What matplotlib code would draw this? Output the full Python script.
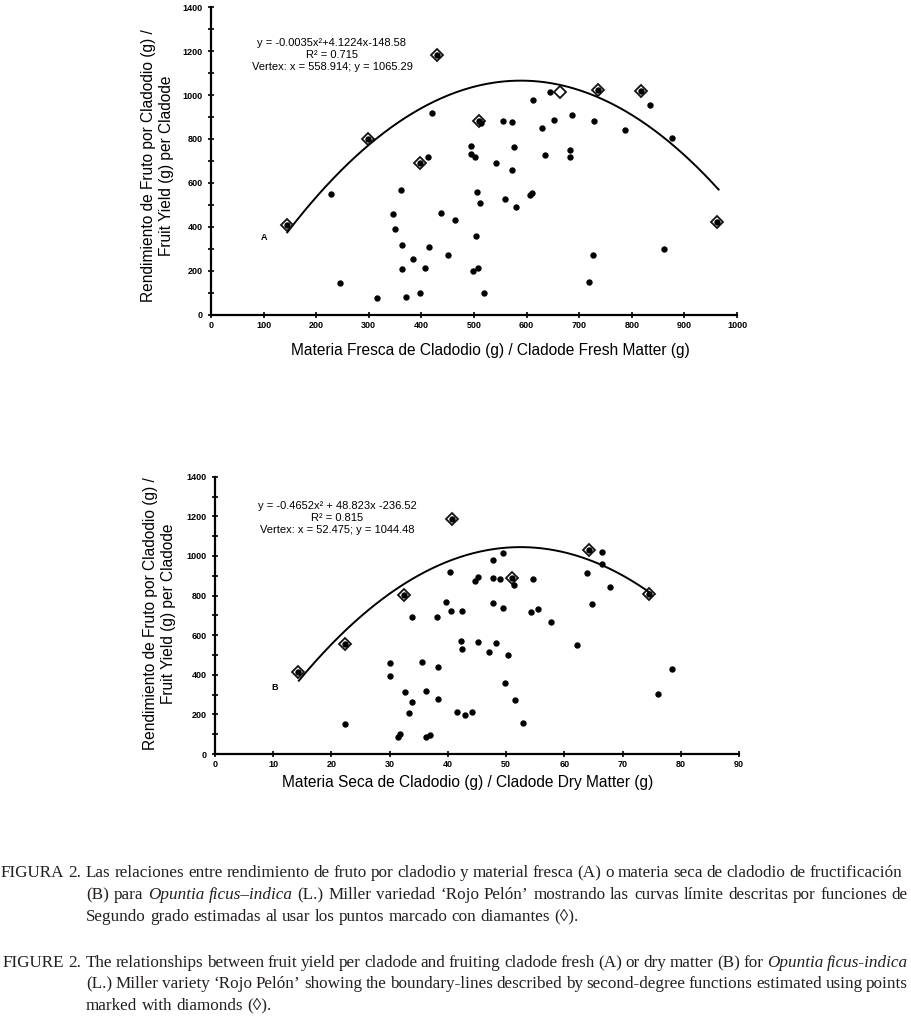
import matplotlib
matplotlib.use("Agg")
import matplotlib.pyplot as plt
import numpy as np
from matplotlib.ticker import MultipleLocator

plt.rcParams['font.family'] = ['Liberation Sans', 'DejaVu Sans']

# ---- panel A: cladode fresh matter (g) vs fruit yield (g)
fresh_x = [227.6, 245.4, 316.4, 345.6, 349.4, 362, 362.7, 362.7, 371, 383.6, 397, 407, 414,
           413.4, 420, 437.5, 451.5, 464, 514, 494, 494, 501, 506, 512, 503, 498, 508, 519.7,
           542.6, 555, 573, 575.6, 573, 559, 579, 606, 610, 612, 629.5, 635, 644, 652.5, 686,
           681.7, 683, 729, 726, 718.5, 787, 835.5, 876.7, 862,
           145, 298.7, 397.6, 430.6, 509.5, 735.7, 817.7, 962]
fresh_y = [552, 145, 79, 460, 390, 566, 318, 207, 83, 254, 100, 212, 310,
           720, 917, 465, 271, 433, 873, 767, 733, 720, 561, 510, 360, 198, 212, 100,
           692, 882, 876, 763, 658, 527, 492, 546, 555, 976, 852, 728, 1014, 885, 908,
           749, 716, 881, 271, 150, 840, 954, 805, 300,
           408, 799, 692, 1184, 882, 1025, 1017, 424]
fresh_dia_x = [145, 298.7, 397.6, 430.6, 509.5, 663, 735.7, 817.7, 962]
fresh_dia_y = [408, 799, 692, 1184, 882, 1012, 1025, 1017, 424]
fresh_coef = [-0.0035, 4.1224, -148.58]
fresh_range = [145, 965]
fresh_eq = "y = -0.0035x²+4.1224x-148.58\nR² = 0.715\nVertex: x = 558.914; y = 1065.29"

# ---- panel B: cladode dry matter (g) vs fruit yield (g)
dry_x = [22.3, 30.1, 30.1, 32.6, 33.9, 33.4, 31.5, 31.7, 33.8, 35.6, 36.2, 36.2, 37, 38.2,
         38.3, 38.3, 39.6, 40.3, 40.6, 41.6, 42.5, 42.3, 42.5, 43, 44.1, 44.7, 45.2, 45.2,
         47, 47.8, 47.8, 47.8, 48.2, 49, 49.4, 49.4, 49.8, 50.3, 51.3, 51.6, 52.9, 54.3,
         54.7, 55.5, 57.7, 62.2, 63.9, 66.4, 66.5, 64.7, 67.8, 76.1, 78.5,
         14.2, 22.4, 32.4, 40.7, 51, 64.2, 74.6]
dry_y = [151, 459, 394, 315, 261, 207, 86, 101, 692, 464, 320, 86, 98, 693,
         437, 276, 767, 920, 722, 212, 724, 570, 530, 199, 214, 875, 895, 567,
         513, 979, 890, 764, 560, 885, 1016, 739, 360, 500, 853, 273, 158, 718,
         885, 734, 665, 552, 912, 1021, 961, 756, 841, 305, 427,
         414, 555, 803, 1186, 888, 1030, 806]
dry_dia_x = [14.2, 22.4, 32.4, 40.7, 51, 64.2, 74.6]
dry_dia_y = [414, 555, 803, 1186, 888, 1030, 806]
dry_coef = [-0.4652, 48.823, -236.52]
dry_range = [14.4, 74.7]
dry_eq = "y = -0.4652x² + 48.823x -236.52\nR² = 0.815\nVertex: x = 52.475; y = 1044.48"

ylabel = "Rendimiento de Fruto por Cladodio (g) /\nFruit Yield (g) per Cladode"

W, H = 911, 1017
fig = plt.figure(figsize=(W / 100, H / 100), dpi=100)


def fx(px):
    return px / W


def fy(py):
    return 1 - py / H


def panel(rect, px, py, kx, ky, coef, xr, xmax, xstep, eq, eq_xy, letter, letter_xy):
    ax = fig.add_axes(rect)
    xs = np.linspace(xr[0], xr[1], 300)
    ax.plot(xs, np.polyval(coef, xs), color='black', lw=1.4, zorder=2)
    ax.plot(kx, ky, linestyle='none', marker='D', ms=6.3, mfc='none', mec='#111111',
            mew=1.3, zorder=3)
    ax.scatter(px, py, s=21, color='black', linewidths=0, zorder=4)
    ax.set_xlim(0, xmax)
    ax.set_ylim(0, 1400)
    xt = np.arange(0, xmax + 1, xstep)
    ax.set_xticks(xt, [f"{v:g}" for v in xt], fontsize=6.5, fontweight='bold')
    yt = np.arange(0, 1401, 200)
    ax.set_yticks(yt, [str(v) for v in yt], fontsize=6.5, fontweight='bold')
    ax.yaxis.set_minor_locator(MultipleLocator(100))
    ax.tick_params(which='both', direction='inout', length=5, width=1.2, colors='black')
    ax.tick_params(axis='x', pad=2)
    ax.tick_params(axis='y', pad=3.5)
    for s in ['top', 'right']:
        ax.spines[s].set_visible(False)
    for s in ['left', 'bottom']:
        ax.spines[s].set_linewidth(1.6)
    ax.text(eq_xy[0], eq_xy[1], eq, ha='center', va='center', multialignment='center',
            fontsize=8, linespacing=1.25)
    ax.text(letter_xy[0], letter_xy[1], letter, ha='center', va='center', fontsize=6.5,
            fontweight='bold')
    return ax


panel([fx(211), fy(315), 526 / W, 308 / H], fresh_x, fresh_y, fresh_dia_x, fresh_dia_y,
      fresh_coef, fresh_range, 1000, 100, fresh_eq, (230, 1180), "A", (100, 353))
panel([fx(215), fy(754), 524 / W, 277.3 / H], dry_x, dry_y, dry_dia_x, dry_dia_y,
      dry_coef, dry_range, 90, 10, dry_eq, (21, 1190), "B", (10.3, 336))

fig.text(fx(157.5), fy(166), ylabel, rotation=90, ha='center', va='center',
         multialignment='center', fontsize=11.2, linespacing=1.2)
fig.text(fx(490), fy(350), "Materia Fresca de Cladodio (g) / Cladode Fresh Matter (g)",
         ha='center', va='center', fontsize=11.2)
fig.text(fx(159.5), fy(614), ylabel, rotation=90, ha='center', va='center',
         multialignment='center', fontsize=11.2, linespacing=1.2)
fig.text(fx(468), fy(782), "Materia Seca de Cladodio (g) / Cladode Dry Matter (g)",
         ha='center', va='center', fontsize=11.2)

# ---- caption, justified line by line as in the original
serif = ['Liberation Serif', 'DejaVu Serif']
ccolor = '#231f20'
rend = fig.canvas.get_renderer()

cap = [
    # (baseline px, label, segments, justified, right edge)
    (877, "FIGURA 2.", [("Las relaciones entre rendimiento de fruto por cladodio y material "
                         "fresca (A) o materia seca de cladodio de fructificación", False)], True, 902),
    (899, None, [("(B) para", False), ("Opuntia ficus–indica", True),
                 ("(L.) Miller variedad ‘Rojo Pelón’ mostrando las curvas límite "
                  "descritas por funciones de", False)], True, 908),
    (921, None, [("Segundo grado estimadas al usar los puntos marcado con "
                  "diamantes (◊).", False)], False, 908),
    (967, "FIGURE 2.", [("The relationships between fruit yield per cladode and fruiting "
                         "cladode fresh (A) or dry matter (B) for", False),
                        ("Opuntia ficus-indica", True)], True, 908),
    (988, None, [("(L.) Miller variety ‘Rojo Pelón’ showing the boundary-lines "
                  "described by second-degree functions estimated using points", False)], True, 908),
    (1010, None, [("marked with diamonds (◊).", False)], False, 908),
]
indent = 86


def words(segments):
    out = []
    for txt, it in segments:
        for w in txt.split():
            out.append((w, it))
    return out


def measure(w, it, size):
    t = fig.text(0, 0, w, fontsize=size, family=serif, style='italic' if it else 'normal')
    wd = t.get_window_extent(rend).width
    t.remove()
    return wd


# pick the largest size at which every justified line still has a normal word gap
ref = 10.0
csize = 14.0
for y, lab, segs, just, x1 in cap:
    if not just:
        continue
    ws = words(segs)
    total = sum(measure(w, it, ref) for w, it in ws)
    n_gap = len(ws) - 1
    s = (x1 - indent) / (total / ref + n_gap * 0.2 * 100 / 72)
    csize = min(csize, s)


def cap_line(y, x0, x1, segments, justify=True):
    objs = []
    for w, it in words(segments):
        t = fig.text(0, fy(y), w, fontsize=csize, family=serif, color=ccolor,
                     style='italic' if it else 'normal', va='baseline', ha='left')
        objs.append(t)
    widths = [t.get_window_extent(rend).width for t in objs]
    gap = csize * 100 / 72 * 0.25
    if justify and len(objs) > 1:
        gap = (x1 - x0 - sum(widths)) / (len(objs) - 1)
    x = x0
    for t, w in zip(objs, widths):
        t.set_x(fx(x))
        x += w + gap


for y, lab, segs, just, x1 in cap:
    if lab:
        lw = sum(measure(w, False, csize) for w in lab.split()) + csize * 100 / 72 * 0.25
        cap_line(y, min(3, indent - 5 - lw), indent - 5, [(lab, False)], justify=False)
    cap_line(y, indent, x1, segs, justify=just)

fig.savefig('out.png', dpi=100)
